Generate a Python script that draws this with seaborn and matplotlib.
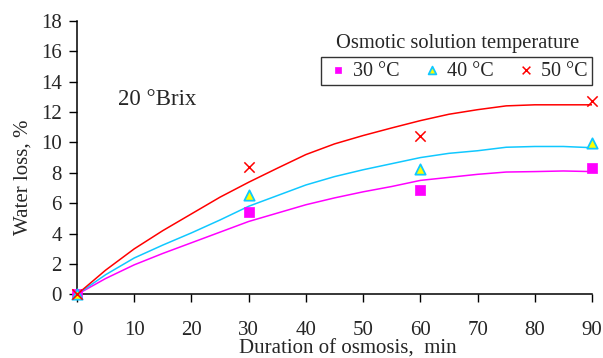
import seaborn as sns
import numpy as np
import matplotlib.pyplot as plt
import pandas as pd

### data

minutes = [0, 5, 10, 15, 20, 25, 30, 35, 40, 45, 50, 55, 60, 65, 70, 75, 80, 85, 90]
curve_30 = [0, 1.05, 1.95, 2.7, 3.4, 4.1, 4.8, 5.35, 5.9, 6.35, 6.75, 7.1, 7.5, 7.7, 7.9, 8.05, 8.08, 8.12, 8.08]
curve_40 = [0, 1.3, 2.4, 3.25, 4.05, 4.9, 5.8, 6.5, 7.2, 7.75, 8.2, 8.6, 9.0, 9.28, 9.45, 9.68, 9.73, 9.73, 9.65]
curve_50 = [0, 1.6, 3.0, 4.2, 5.3, 6.4, 7.38, 8.3, 9.2, 9.9, 10.45, 10.95, 11.43, 11.85, 12.15, 12.4, 12.47, 12.47, 12.47]

exp_minutes = [0, 30, 60, 90]
exp_30 = [0, 5.4, 6.9, 8.3]
exp_40 = [0, 6.55, 8.25, 9.95]
exp_50 = [0, 8.35, 10.45, 12.7]

labels = ["30 °C", "40 °C", "50 °C"]
x_ticks = list(range(0, 91, 10))
y_ticks = list(range(0, 19, 2))

sns.set_style("ticks")
plt.rcParams['font.family'] = ['Liberation Serif', 'DejaVu Serif']

line_colors = ["#FF00FF", "#10C8FF", "#FF0000"]

fig = plt.figure(figsize=(6.03, 3.58), dpi=100)
ax = fig.add_axes([0.1277, 0.1774, 0.8541, 0.7648])

curves = pd.DataFrame({"min": minutes * 3,
                       "loss": curve_30 + curve_40 + curve_50,
                       "temp": [labels[0]] * len(minutes) + [labels[1]] * len(minutes) + [labels[2]] * len(minutes)})
sns.lineplot(data=curves, x="min", y="loss", hue="temp", palette=line_colors,
             linewidth=1.1, legend=False, ax=ax)

# experimental points
sns.scatterplot(x=exp_minutes, y=exp_30, marker="s", s=45, color="#FF00FF",
                edgecolor="#FF00FF", linewidth=0.5, label=labels[0], ax=ax, zorder=5, clip_on=False)
sns.scatterplot(x=exp_minutes, y=exp_40, marker="^", s=55, color="#FFFF00",
                edgecolor="#10C8FF", linewidth=1.3, label=labels[1], ax=ax, zorder=6, clip_on=False)
sns.scatterplot(x=exp_minutes, y=exp_50, marker="x", s=55, color="#FF0000",
                linewidth=1.1, label=labels[2], ax=ax, zorder=7, clip_on=False)

ax.set_xlim(0, 90)
ax.set_ylim(0, 18)
ax.set_xticks(x_ticks)
ax.set_yticks(y_ticks)
ax.tick_params(axis="both", direction="out", length=6, width=1, labelsize=15, color="black")
ax.tick_params(axis="x", pad=13)
ax.tick_params(axis="y", pad=5)
for side in ["left", "bottom"]:
    ax.spines[side].set_linewidth(1.1)
    ax.spines[side].set_color("black")
sns.despine(ax=ax)

ax.set_xlabel("Duration of osmosis,  min", fontsize=15)
ax.set_ylabel("Water loss, %", fontsize=15)
ax.xaxis.set_label_coords(0.526, -0.165)
ax.yaxis.set_label_coords(-0.087, 0.43)

ax.text(0.08, 0.712, "20 °Brix", transform=ax.transAxes, fontsize=16.5, ha="left", va="center")
ax.text(0.739, 0.915, "Osmotic solution temperature", transform=ax.transAxes,
        fontsize=14.8, ha="center", va="center")

leg = ax.legend(loc="upper right", bbox_to_anchor=(1.0, 0.866), borderaxespad=0, ncol=3,
                fontsize=14.5, frameon=True, fancybox=False, handlelength=1.3,
                handletextpad=0.1, columnspacing=0.95, borderpad=0.2, markerscale=0.75)
leg.get_frame().set_edgecolor("black")
leg.get_frame().set_linewidth(1.0)

fig.savefig("out.png", dpi=100)
